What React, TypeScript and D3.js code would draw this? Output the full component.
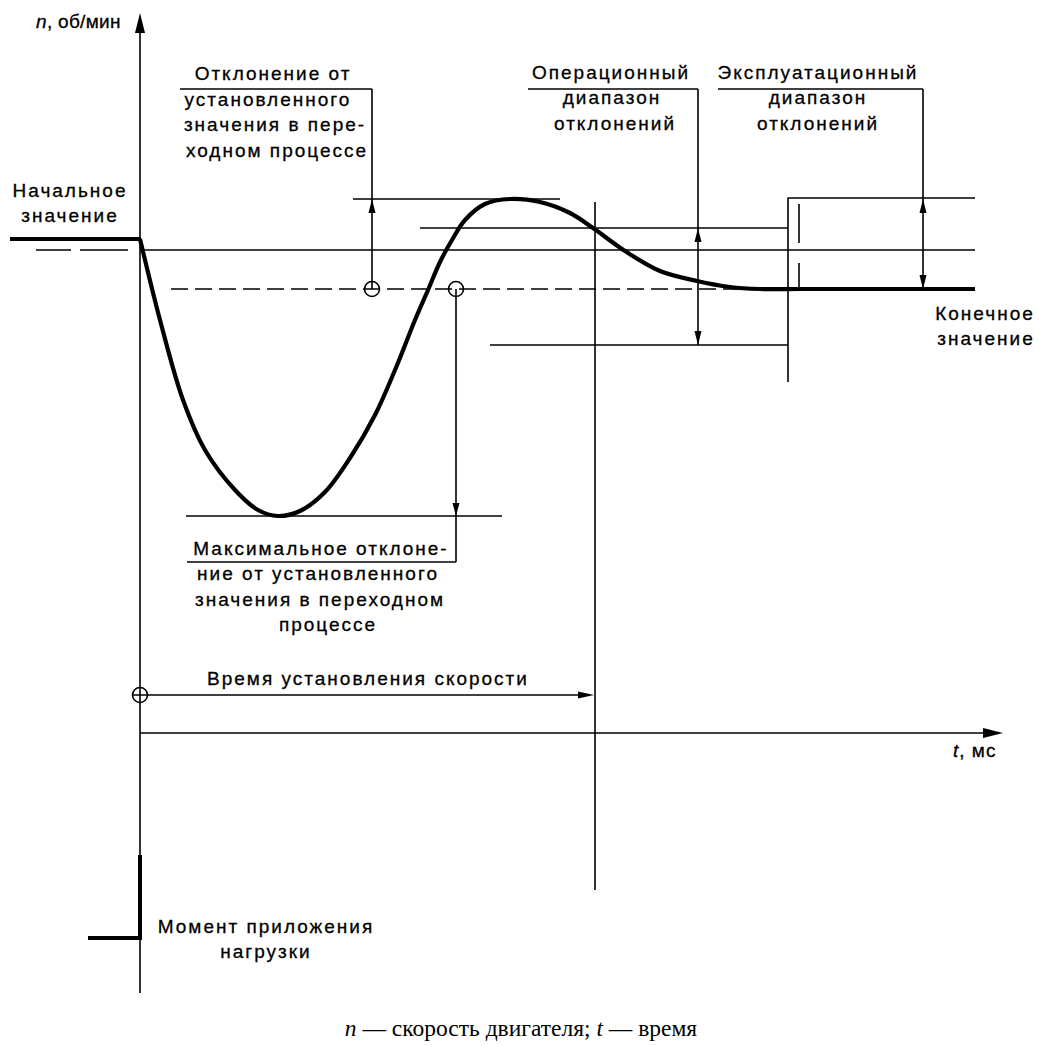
import React from "react";
import * as d3 from "d3";

// ---- Data (x = time units, y = speed units) ----
const curveT = [0, 20, 43, 65, 95, 118, 138, 160, 185, 210, 235, 255, 275, 288, 300, 312, 325, 345, 370, 400, 430, 453, 485, 520, 557, 590, 620, 660];
const curveN = [494, 413, 333, 283, 243, 223, 217, 222, 241, 275, 318, 363, 413, 443, 471, 493, 513, 529, 534, 531, 520, 505, 482, 462, 452, 446, 444, 444];

const tStart = -130;    // начало графика (слева от оси)
const nInitial = 494;   // Начальное значение
const nSet = 483;       // установленное значение (тонкая линия)
const nFinal = 444;     // Конечное значение
const nPeak = 534;      // верхнее отклонение
const nOpHigh = 505;    // операционный диапазон, верх
const nOpLow = 388;     // операционный диапазон, низ
const nTrough = 217;    // максимальное отклонение

const tMark1 = 232;     // отклонение в переходном процессе
const tMark2 = 316;     // максимальное отклонение
const tSettle = 455;    // время установления скорости
const tOp = 558;        // стрелка операционного диапазона
const tExpl = 648;      // граница эксплуатационного диапазона
const tExplArrow = 783; // стрелка эксплуатационного диапазона
const tEnd = 835;

const FONT = "'Liberation Sans', Arial, Helvetica, sans-serif";

export default function App() {
  const x = d3.scaleLinear().domain([0, 860]).range([140, 1000]);
  const y = d3.scaleLinear().domain([0, 720]).range([733, 13]);

  const line = d3
    .line<number>()
    .x((_, i) => x(curveT[i]))
    .y((d) => y(d))
    .curve(d3.curveCatmullRom.alpha(0.5));
  const curvePath = line(curveN) || "";
  const lastT = curveT[curveT.length - 1];

  const thin = { stroke: "#000", strokeWidth: 1.6, fill: "none" } as const;

  const arrow = (ax: number, ay: number, dir: "up" | "down" | "left" | "right", len = 14, hw = 3.5) => {
    let p = "";
    if (dir === "up") p = `M${ax},${ay} L${ax - hw},${ay + len} L${ax + hw},${ay + len} Z`;
    if (dir === "down") p = `M${ax},${ay} L${ax - hw},${ay - len} L${ax + hw},${ay - len} Z`;
    if (dir === "right") p = `M${ax},${ay} L${ax - len},${ay - hw} L${ax - len},${ay + hw} Z`;
    if (dir === "left") p = `M${ax},${ay} L${ax + len},${ay - hw} L${ax + len},${ay + hw} Z`;
    return <path d={p} fill="#000" stroke="none" />;
  };

  const x0 = x(0);
  const yAxisTop = y(720);
  const txt = (s: string, tx: number, ty: number, anchor = "middle") => (
    <text x={tx} y={ty} textAnchor={anchor} fontFamily={FONT} fontSize={19} letterSpacing={2}
      fill="#000" stroke="#000" strokeWidth={0.3}>
      {s}
    </text>
  );

  const yTopLabel = 89; // underline level of the top labels

  return (
    <svg width={1039} height={1046} style={{ position: "absolute", left: 0, top: 0, background: "#fff" }}>
      <rect width={1039} height={1046} fill="#fff" />
      {/* axes */}
      <line x1={x0} y1={993} x2={x0} y2={yAxisTop + 18} {...thin} />
      {arrow(x0, yAxisTop, "up", 20, 5)}
      <line x1={x0} y1={y(0)} x2={x(845)} y2={y(0)} {...thin} />
      {arrow(x(863), y(0), "right", 20, 5)}

      {/* reference lines */}
      <line x1={x0} y1={y(nSet)} x2={x(tEnd)} y2={y(nSet)} {...thin} />
      <line x1={36} y1={y(nSet)} x2={128} y2={y(nSet)} {...thin} strokeDasharray="35,9,48,100" />
      <line x1={x(31)} y1={y(nFinal)} x2={x(620)} y2={y(nFinal)} {...thin} strokeDasharray="17,7" />
      <line x1={x(213)} y1={y(nPeak)} x2={x(420)} y2={y(nPeak)} {...thin} />
      <line x1={x(280)} y1={y(nOpHigh)} x2={x(tExpl)} y2={y(nOpHigh)} {...thin} />
      <line x1={x(350)} y1={y(nOpLow)} x2={x(tExpl)} y2={y(nOpLow)} {...thin} />
      <line x1={x(46)} y1={y(nTrough)} x2={x(362)} y2={y(nTrough)} {...thin} />

      {/* exploitation range bracket */}
      <polyline points={`${x(tExpl)},${382} ${x(tExpl)},${y(nPeak) - 1} ${x(tEnd)},${y(nPeak) - 1}`} {...thin} />
      <line x1={x(tExpl) + 11} y1={204} x2={x(tExpl) + 11} y2={243} {...thin} />
      <line x1={x(tExpl) + 11} y1={263} x2={x(tExpl) + 11} y2={y(nFinal)} {...thin} />

      {/* settle time vertical */}
      <line x1={x(tSettle)} y1={202} x2={x(tSettle)} y2={890} {...thin} />

      {/* operational range arrow */}
      <line x1={x(tOp)} y1={yTopLabel} x2={x(tOp)} y2={y(nOpLow)} {...thin} />
      {arrow(x(tOp), y(nOpHigh), "up")}
      {arrow(x(tOp), y(nOpLow), "down")}
      <line x1={528} y1={yTopLabel} x2={x(tOp)} y2={yTopLabel} {...thin} />

      {/* exploitation range arrow */}
      <line x1={x(tExplArrow)} y1={yTopLabel} x2={x(tExplArrow)} y2={y(nFinal)} {...thin} />
      {arrow(x(tExplArrow), y(nPeak), "up")}
      {arrow(x(tExplArrow), y(nFinal), "down")}
      <line x1={718} y1={yTopLabel} x2={x(tExplArrow)} y2={yTopLabel} {...thin} />

      {/* deviation in transient */}
      <line x1={180} y1={yTopLabel} x2={x(tMark1)} y2={yTopLabel} {...thin} />
      <line x1={x(tMark1)} y1={yTopLabel} x2={x(tMark1)} y2={y(nFinal)} {...thin} />
      {arrow(x(tMark1), y(nPeak), "up")}
      <circle cx={x(tMark1)} cy={y(nFinal)} r={7.5} {...thin} />

      {/* max deviation */}
      <circle cx={x(tMark2)} cy={y(nFinal)} r={7.5} {...thin} />
      <line x1={x(tMark2)} y1={y(nFinal)} x2={x(tMark2)} y2={562} {...thin} />
      {arrow(x(tMark2), y(nTrough), "down", 13, 3.5)}
      <line x1={187} y1={562} x2={x(tMark2)} y2={562} {...thin} />

      {/* settle time arrow */}
      <circle cx={x0} cy={695} r={7.5} {...thin} />
      <line x1={x0 - 7.5} y1={695} x2={x(tSettle) - 12} y2={695} {...thin} />
      {arrow(x(tSettle) - 1, 695, "right", 16, 3.5)}

      {/* load application step */}
      <polyline points={`${x0},855 ${x0},938 88,938`} stroke="#000" strokeWidth={4} fill="none" />

      {/* speed curve: initial level, transient, final level */}
      <line x1={x(tStart)} y1={y(nInitial)} x2={x0 + 1} y2={y(nInitial)} stroke="#000" strokeWidth={4.2} />
      <path d={curvePath} stroke="#000" strokeWidth={4.2} fill="none" strokeLinejoin="round" />
      <line x1={x(lastT) - 1} y1={y(nFinal)} x2={x(tEnd)} y2={y(nFinal)} stroke="#000" strokeWidth={4.2} />

      {/* texts */}
      <text x={36} y={28} fontFamily={FONT} fontSize={19} letterSpacing={0.3} fill="#000" stroke="#000" strokeWidth={0.3}>
        <tspan fontStyle="italic">n</tspan>, об/мин
      </text>
      {txt("Отклонение от", 273, 80)}
      {txt("установленного", 268, 106)}
      {txt("значения в пере-", 275, 131)}
      {txt("ходном процессе", 277, 157)}
      {txt("Начальное", 70, 197)}
      {txt("значение", 70, 222)}
      {txt("Операционный", 611, 79)}
      {txt("диапазон", 612, 104)}
      {txt("отклонений", 615, 130)}
      {txt("Эксплуатационный", 818, 79)}
      {txt("диапазон", 818, 104)}
      {txt("отклонений", 818, 130)}
      {txt("Конечное", 985, 320)}
      {txt("значение", 986, 345)}
      {txt("Максимальное отклоне-", 321, 555)}
      {txt("ние от установленного", 318, 580)}
      {txt("значения в переходном", 320, 606)}
      {txt("процессе", 328, 631)}
      {txt("Время установления скорости", 368, 685)}
      <text x={953} y={757} fontFamily={FONT} fontSize={19} letterSpacing={1} fill="#000" stroke="#000" strokeWidth={0.3}>
        <tspan fontStyle="italic">t</tspan>, мс
      </text>
      {txt("Момент приложения", 266, 933)}
      {txt("нагрузки", 266, 958)}

      <text x={521} y={1036} textAnchor="middle" fontFamily="'Liberation Serif', 'Times New Roman', serif" fontSize={23.5} fill="#000">
        <tspan fontStyle="italic">n</tspan> — скорость двигателя; <tspan fontStyle="italic">t</tspan> — время
      </text>
    </svg>
  );
}
